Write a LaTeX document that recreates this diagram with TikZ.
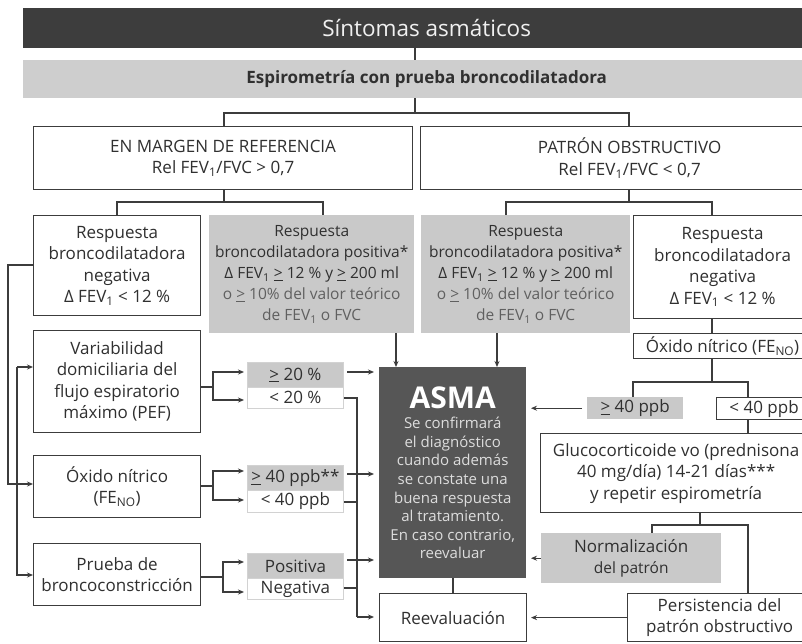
\documentclass[tikz,border=0pt]{standalone}
\usepackage{fontspec}
\setmainfont{Open Sans}
\usetikzlibrary{arrows.meta}
\definecolor{linec}{HTML}{3C3C3C}
\definecolor{darkbar}{HTML}{3D3D3D}
\definecolor{lgray}{HTML}{C9C9C9}
\definecolor{asmac}{HTML}{565656}
\definecolor{txt}{HTML}{303030}
\definecolor{txtg}{HTML}{606060}
\definecolor{pairb}{HTML}{D2D2D2}
\definecolor{asmatxt}{HTML}{DDDDDD}
\newcommand\gtu{\underline{>}}
\newcommand\bodyf{\fontsize{17}{21.5}\selectfont}
\newcommand\grayf{\fontsize{15.5}{21}\selectfont}
\newcommand\mybox[7]{%
  \pgfmathsetmacro\bw{#5-#3}\pgfmathsetmacro\bh{#6-#4}%
  \node[#2, minimum width=\bw pt, minimum height=\bh pt, anchor=north west, inner sep=0pt] (#1) at (#3,#4) {#7};}
\begin{document}
\begin{tikzpicture}[x=1pt,y=-1pt,
  wbox/.style={draw=linec, line width=1.2pt, fill=white, text=txt, align=center, font=\bodyf},
  gbox/.style={fill=lgray, text=txt, align=center, font=\grayf},
  pairg/.style={fill=lgray, draw=pairb, line width=0.8pt, text=txt, align=center, font=\bodyf},
  pairw/.style={fill=white, draw=pairb, line width=0.8pt, text=txt, align=center, font=\bodyf},
  topbar/.style={fill=darkbar, text=white!94!black, font=\fontsize{22.5}{24}\selectfont},
  espbar/.style={fill=lgray!90!white, text=txt, font=\fontsize{17}{20}\selectfont\bfseries},
  asmabox/.style={fill=asmac, text=asmatxt, align=center, font=\fontsize{15}{18.6}\selectfont},
  ln/.style={draw=linec, line width=1.3pt},
  arr/.style={ln, -{Stealth[length=6pt,width=5pt]}}]
\useasboundingbox (0,0) rectangle (802,643);
\fill[white] (0,0) rectangle (802,643);
\clip (0,0) rectangle (802,643);
% top
\mybox{top}{topbar}{23}{8}{830}{48}{Síntomas asmáticos}
\mybox{espiro}{espbar}{23}{60}{830}{98}{Espirometría con prueba broncodilatadora}
\mybox{margen}{wbox}{33}{126}{412}{189}{EN MARGEN DE REFERENCIA\\ Rel FEV\textsubscript{1}/FVC > 0,7}
\mybox{patron}{wbox}{420}{126}{838}{189}{PATRÓN OBSTRUCTIVO\\ Rel FEV\textsubscript{1}/FVC < 0,7}
% second row
\mybox{negL}{wbox}{33}{215}{200}{315}{Respuesta\\ broncodilatadora\\ negativa\\ Δ FEV\textsubscript{1} < 12 \%}
\mybox{posL}{gbox}{209}{215}{414}{333}{Respuesta\\ broncodilatadora positiva*\\ Δ FEV\textsubscript{1} \gtu{} 12 \% y \gtu{} 200 ml\\ \textcolor{txtg}{o \gtu{} 10\% del valor teórico}\\ \textcolor{txtg}{de FEV\textsubscript{1} o FVC}}
\mybox{posR}{gbox}{421}{215}{630}{333}{Respuesta\\ broncodilatadora positiva*\\ Δ FEV\textsubscript{1} \gtu{} 12 \% y \gtu{} 200 ml\\ \textcolor{txtg}{o \gtu{} 10\% del valor teórico}\\ \textcolor{txtg}{de FEV\textsubscript{1} o FVC}}
\mybox{negR}{wbox}{633}{215}{811}{318}{Respuesta\\ broncodilatadora\\ negativa\\ Δ FEV\textsubscript{1} < 12 \%}
% right chain
\mybox{oxR}{wbox}{633}{333}{811}{358}{Óxido nítrico (FE\textsubscript{NO})}
\mybox{geR}{gbox}{587}{397}{683}{419}{\bodyf\gtu{} 40 ppb}
\mybox{ltR}{wbox}{716}{397}{811}{419}{< 40 ppb}
\mybox{gluco}{wbox}{540}{433}{811}{512}{Glucocorticoide vo (prednisona\\ 40 mg/día) 14-21 días***\\ y repetir espirometría}
\mybox{norm}{gbox}{541}{533}{721}{583}{\bodyf Normalización\\ del patrón}
\mybox{pers}{wbox}{627}{593}{811}{641}{Persistencia del\\ patrón obstructivo}
\mybox{reev}{wbox}{379}{593}{526}{641}{Reevaluación}
% ASMA
\mybox{asma}{asmabox}{379}{367}{526}{578}{{\fontsize{30}{34}\selectfont\bfseries\color{white}ASMA}\\[2pt] Se confirmará\\ el diagnóstico\\ cuando además\\ se constate una\\ buena respuesta\\ al tratamiento.\\ En caso contrario,\\ reevaluar}
% left column
\mybox{var}{wbox}{33}{330}{200}{432}{Variabilidad\\ domiciliaria del\\ flujo espiratorio\\ máximo (PEF)}
\mybox{oxL}{wbox}{33}{455}{200}{517}{Óxido nítrico\\ (FE\textsubscript{NO})}
\mybox{prL}{wbox}{33}{543}{200}{605}{Prueba de\\ broncoconstricción}
\mybox{ge20}{pairg}{247}{362}{343}{387}{\gtu{} 20 \%}
\mybox{lt20}{pairw}{247}{387}{343}{408}{< 20 \%}
\mybox{ge40L}{pairg}{247}{465}{343}{490}{\gtu{} 40 ppb**}
\mybox{lt40L}{pairw}{247}{490}{343}{512}{< 40 ppb}
\mybox{pos}{pairg}{247}{553}{343}{578}{Positiva}
\mybox{neg}{pairw}{247}{578}{343}{599}{Negativa}
% connectors top
\draw[ln] (415,0 |- top.south) -- (415,0 |- espiro.north);
\draw[ln] (415,0 |- espiro.south) -- (415,113);
\draw[ln] (224,0 |- margen.north) -- (224,113) -- (629,113) -- (629,0 |- patron.north);
\draw[ln] (224,0 |- margen.south) -- (224,202);
\draw[ln] (117,0 |- negL.north) -- (117,202) -- (323,202) -- (323,0 |- posL.north);
\draw[ln] (629,0 |- patron.south) -- (629,202);
\draw[ln] (506,0 |- posR.north) -- (506,202) -- (712,202) -- (712,0 |- negR.north);
\draw[arr] (396,0 |- posL.south) -- (396,0 |- asma.north);
\draw[arr] (497,0 |- posR.south) -- (497,0 |- asma.north);
% right chain connectors
\draw[ln] (712,0 |- negR.south) -- (712,0 |- oxR.north);
\draw[ln] (712,0 |- oxR.south) -- (712,382);
\draw[ln] (633,0 |- geR.north) -- (633,382) -- (748,382) -- (748,0 |- ltR.north);
\draw[arr] (582,0 |- geR.west) -- (531,0 |- geR.west);
\draw[ln] (748,0 |- ltR.south) -- (748,0 |- gluco.north);
\draw[ln] (700,0 |- gluco.south) -- (700,525);
\draw[ln] (652,0 |- norm.north) -- (652,525) -- (748,525) -- (748,0 |- pers.north);
\draw[arr] (norm.west) -- (531,0 |- norm.west);
\draw[arr] (pers.west) -- (531,0 |- pers.west);
\draw[ln] (453,0 |- asma.south) -- (453,0 |- reev.north);
% left connectors
\draw[arr] (negL.west |- 0,265) -- (8,265) -- (8,484) -- (oxL.west |- 0,484);
\draw[arr] (17,367) -- (var.west |- 0,367);
\draw[arr] (17,367) -- (17,575) -- (prL.west |- 0,575);
% brackets
\draw[ln] (var.east |- 0,387) -- (213,387);
\draw[arr, shorten >=3pt] (213,387) |- (ge20.west |- 0,372);
\draw[arr, shorten >=3pt] (213,387) |- (lt20.west |- 0,400);
\draw[ln] (oxL.east |- 0,486) -- (213,486);
\draw[arr, shorten >=3pt] (213,486) |- (ge40L.west |- 0,471);
\draw[arr, shorten >=3pt] (213,486) |- (lt40L.west |- 0,500);
\draw[ln] (prL.east |- 0,577) -- (223,577);
\draw[arr, shorten >=3pt] (223,577) |- (pos.west |- 0,562);
\draw[arr, shorten >=3pt] (223,577) |- (neg.west |- 0,592);
% to ASMA
\draw[arr, shorten >=5pt] (347,372) -- (asma.west |- 0,372);
\draw[arr, shorten >=5pt] (347,474) -- (asma.west |- 0,474);
\draw[arr, shorten >=5pt] (347,560) -- (asma.west |- 0,560);
\draw[ln] (lt20.east |- 0,398) -- (357,398) -- (357,617);
\draw[ln] (lt40L.east |- 0,502) -- (357,502);
\draw[ln] (neg.east |- 0,588) -- (357,588);
\draw[arr, shorten >=5pt] (357,617) -- (reev.west |- 0,617);
\end{tikzpicture}
\end{document}
